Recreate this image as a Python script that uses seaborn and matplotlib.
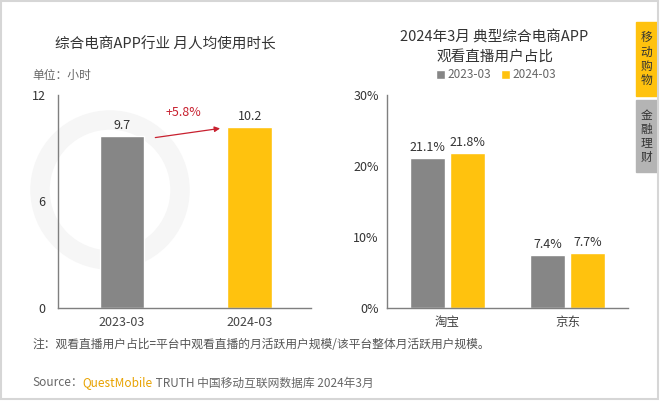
import numpy as np
import matplotlib
matplotlib.use("Agg")
import matplotlib.pyplot as plt
import seaborn as sns
import pandas as pd
from matplotlib.patches import Rectangle, Circle

# data
months = ["2023-03", "2024-03"]
hours = [9.7, 10.2]
growth_label = "+5.8%"

platforms = ["淘宝", "京东"]
share_2023 = [21.1, 7.4]
share_2024 = [21.8, 7.7]

gray = "#868686"
yellow = "#FFC20E"

sns.set_theme(style="white")
plt.rcParams["font.family"] = ["Noto Sans CJK SC", "DejaVu Sans"]
plt.rcParams["axes.unicode_minus"] = False

W, H = 660, 401
fig = plt.figure(figsize=(6.6, 4.01), dpi=100)


def fx(px):
    return px / W


def fy(py):
    return 1 - py / H


# faint watermark ring, on a background axes behind everything
bg = fig.add_axes([0, 0, 1, 1], zorder=-10)
bg.set_xlim(0, W)
bg.set_ylim(H, 0)
bg.set_aspect("equal")
bg.axis("off")
bg.add_patch(Circle((110, 190), 70, fill=False, ec="#f6f6f6", lw=14))

# ---------------- left chart ----------------
ax1 = fig.add_axes([fx(58), fy(308), fx(311) - fx(58), fy(95) - fy(308)])
ax1.patch.set_alpha(0)
sns.barplot(x=months, y=hours, hue=months, palette=[gray, yellow], legend=False,
            width=0.35, ax=ax1, saturation=1)
ax1.set_xlim(-0.5, 1.48)
ax1.set_ylim(0, 12)
ax1.set_yticks([0, 6, 12])
ax1.tick_params(axis="y", length=0, pad=9, labelsize=9, labelcolor="#333333")
ax1.tick_params(axis="x", length=0, pad=6, labelsize=9, labelcolor="#444444")
for c in ax1.containers:
    ax1.bar_label(c, fmt="%.1f", padding=3, fontsize=9, color="#333333")
ax1.annotate("", xy=(0.79, 10.14), xytext=(0.24, 9.58),
             arrowprops=dict(arrowstyle="-|>", color="#c8202f", lw=0.9, mutation_scale=8))
ax1.text(0.48, 11.0, growth_label, ha="center", va="center", fontsize=9, color="#c8202f")

# ---------------- right chart ----------------
df = pd.DataFrame({
    "platform": platforms * 2,
    "share": share_2023 + share_2024,
    "month": [months[0]] * len(platforms) + [months[1]] * len(platforms),
})
ax2 = fig.add_axes([fx(387), fy(308), fx(628) - fx(387), fy(95) - fy(308)])
ax2.patch.set_alpha(0)
sns.barplot(data=df, x="platform", y="share", hue="month", palette=[gray, yellow],
            width=0.664, gap=0.125, ax=ax2, saturation=1)
ax2.set_xlim(-0.5, 1.5)
ax2.set_ylim(0, 30)
ax2.set_yticks([0, 10, 20, 30])
ax2.set_yticklabels(["0%", "10%", "20%", "30%"])
ax2.tick_params(axis="y", length=0, pad=6, labelsize=9, labelcolor="#333333")
ax2.tick_params(axis="x", length=0, pad=6, labelsize=9, labelcolor="#444444")
for c in ax2.containers:
    ax2.bar_label(c, labels=[f"{v:.1f}%" for v in c.datavalues], padding=3,
                  fontsize=9, color="#333333")
sns.move_legend(ax2, "center", bbox_to_anchor=(fx(496), fy(75)),
                bbox_transform=fig.transFigure, ncol=2, frameon=False, title=None,
                fontsize=8.5, handlelength=0.75, handleheight=0.75,
                handletextpad=0.25, columnspacing=0.8, labelcolor="#666666")

for ax in (ax1, ax2):
    ax.set_xlabel("")
    ax.set_ylabel("")
    for s in ("top", "right"):
        ax.spines[s].set_visible(False)
    for s in ("left", "bottom"):
        ax.spines[s].set_color("#7f7f7f")
        ax.spines[s].set_linewidth(1)

# ---------------- texts ----------------
fig.text(fx(165), fy(44), "综合电商APP行业 月人均使用时长", ha="center", va="center",
         fontsize=10.5, color="#333333")
fig.text(fx(32), fy(75), "单位：小时", ha="left", va="center", fontsize=8.5, color="#666666")
fig.text(fx(494), fy(38), "2024年3月 典型综合电商APP", ha="center", va="center",
         fontsize=10.5, color="#333333")
fig.text(fx(495), fy(57), "观看直播用户占比", ha="center", va="center",
         fontsize=10.5, color="#333333")
fig.text(fx(32), fy(345), "注：观看直播用户占比=平台中观看直播的月活跃用户规模/该平台整体月活跃用户规模。",
         ha="left", va="center", fontsize=8.5, color="#555555")

# source line in three colours
fig.canvas.draw()
renderer = fig.canvas.get_renderer()
x0 = fx(32)
for part, col in [("Source：", "#666666"), ("QuestMobile", "#E8A200"),
                  (" TRUTH 中国移动互联网数据库 2024年3月", "#666666")]:
    t = fig.text(x0, fy(383), part, ha="left", va="center", fontsize=8.5, color=col)
    bb = t.get_window_extent(renderer=renderer)
    x0 += bb.width / W

# side tabs
bg.add_patch(Rectangle((636, 22), 21, 74, color="#FFC20E"))
bg.add_patch(Rectangle((636, 100), 21, 72, color="#b4b4b4"))
fig.text(fx(646.5), fy(59), "移\n动\n购\n物", ha="center", va="center", fontsize=8.5,
         color="#333333", linespacing=1.1)
fig.text(fx(646.5), fy(136), "金\n融\n理\n财", ha="center", va="center", fontsize=8.5,
         color="#333333", linespacing=1.1)

# outer border
bg.add_patch(Rectangle((1, 1), W - 3, H - 3, fill=False, ec="#d6d6d6", lw=1.5))

fig.savefig("out.png", dpi=100)
